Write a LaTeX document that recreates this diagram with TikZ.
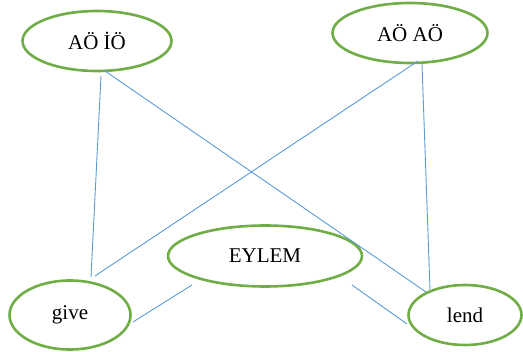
\documentclass[tikz,border=0pt]{standalone}
\usepackage{fontspec}
\setmainfont{Liberation Serif}
\usetikzlibrary{shapes.geometric}
\definecolor{ovalgreen}{HTML}{70AD47}
\definecolor{linkblue}{HTML}{5B9BD5}
\newcommand{\ovaltext}[1]{\raisebox{-2pt}{#1}}
\begin{document}
\begin{tikzpicture}[x=1pt,y=-1pt,
  oval/.style={draw=ovalgreen,line width=2.6pt,fill=white,ellipse,inner sep=0pt,
    font=\fontsize{21}{25}\selectfont},
  link/.style={draw=linkblue,line width=0.9pt}]
\useasboundingbox (0,0) rectangle (523,352);
% ovals
\node[oval,minimum width=149,minimum height=60] (aoio) at (97,41) {\ovaltext{AÖ İÖ}};
\node[oval,minimum width=155,minimum height=60] (aoao) at (410,33) {\ovaltext{AÖ AÖ}};
\node[oval,minimum width=194,minimum height=61] (eylem) at (265,256) {\ovaltext{EYLEM}};
\node[oval,minimum width=121,minimum height=69] (give) at (70,315) {\ovaltext{give}};
\node[oval,minimum width=113,minimum height=60] (lend) at (465,315) {\ovaltext{lend}};
% connector end points
\coordinate (aoioA) at (101,76);
\coordinate (aoioB) at (105,71);
\coordinate (aoaoA) at (418,61);
\coordinate (aoaoB) at (422,64);
\coordinate (giveA) at (91,277);
\coordinate (giveB) at (95,276);
\coordinate (giveC) at (133,322);
\coordinate (lendA) at (426,292);
\coordinate (lendB) at (430,290);
\coordinate (lendC) at (407,324);
\coordinate (eylemA) at (192,285);
\coordinate (eylemB) at (352,285);
% connectors
\draw[link] (aoioA) -- (giveA);
\draw[link] (aoioB) -- (lendA);
\draw[link] (aoaoA) -- (giveB);
\draw[link] (aoaoB) -- (lendB);
\draw[link] (eylemA) -- (giveC);
\draw[link] (eylemB) -- (lendC);
\end{tikzpicture}
\end{document}
